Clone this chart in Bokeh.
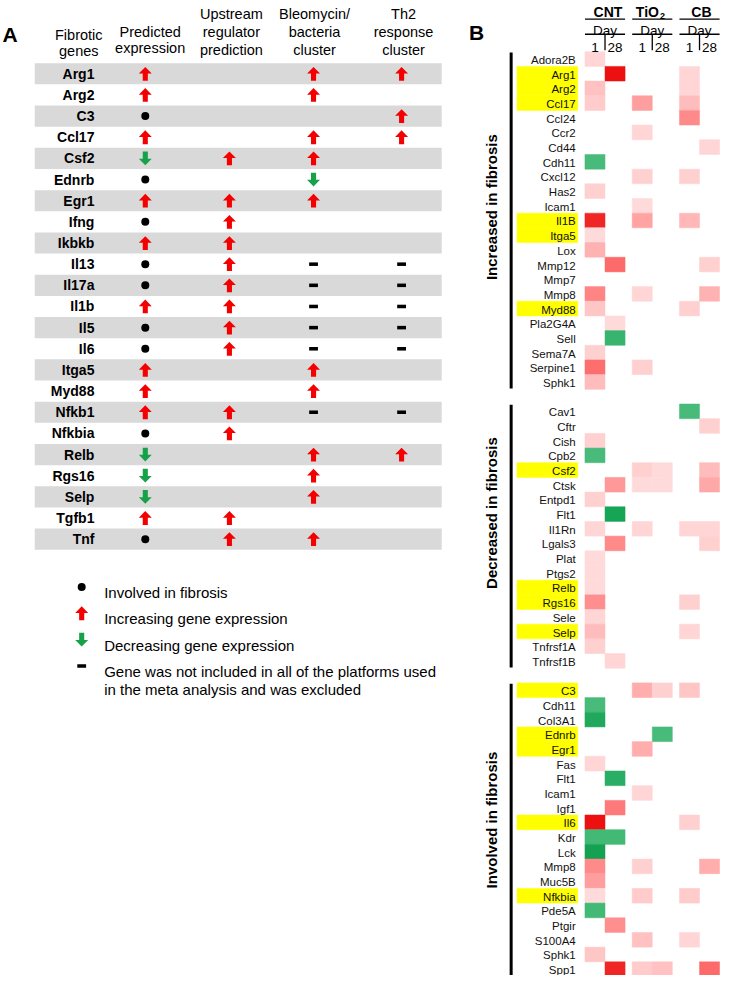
import numpy as np
from bokeh.plotting import figure
from bokeh.models import Range1d, ColumnDataSource, LinearColorMapper
from bokeh.core.properties import value
from bokeh.embed import file_html
from bokeh.resources import INLINE

# ---------------- Panel A data ----------------
genes_a = ["Arg1", "Arg2", "C3", "Ccl17", "Csf2", "Ednrb", "Egr1", "Ifng", "Ikbkb",
           "Il13", "Il17a", "Il1b", "Il5", "Il6", "Itga5", "Myd88", "Nfkb1", "Nfkbia",
           "Relb", "Rgs16", "Selp", "Tgfb1", "Tnf"]
predicted = ["up", "up", "dot", "up", "down", "dot", "up", "dot", "up", "dot", "dot", "up",
             "dot", "dot", "up", "up", "up", "dot", "down", "down", "down", "up", "dot"]
upstream = ["", "", "", "", "up", "", "up", "up", "up", "up", "up", "up", "up", "up",
            "", "", "up", "up", "", "", "", "up", "up"]
bleomycin = ["up", "up", "", "up", "up", "down", "up", "", "", "dash", "dash", "dash",
             "dash", "dash", "up", "up", "dash", "", "up", "up", "up", "", "up"]
th2 = ["up", "", "up", "up", "", "", "", "", "", "dash", "dash", "dash", "dash", "dash",
       "", "", "dash", "", "up", "", "", "", ""]
headers_a = [["Fibrotic", "genes"], ["Predicted", "expression"],
             ["Upstream", "regulator", "prediction"], ["Bleomycin/", "bacteria", "cluster"],
             ["Th2", "response", "cluster"]]
legend_symbols = ["dot", "up", "down", "dash"]
legend_labels = [["Involved in fibrosis"], ["Increasing  gene expression"],
                 ["Decreasing gene expression"],
                 ["Gene was not included in all of the platforms used",
                  "in the meta analysis and was excluded"]]

# ---------------- Panel B data ----------------
groups_b = ["CNT", "TiO", "CB"]
days_b = ["1", "28"]
sections_b = ["Increased in fibrosis", "Decreased in fibrosis", "Involved in fibrosis"]
# columns: CNT d1, CNT d28, TiO2 d1, TiO2 d28, CB d1, CB d28 (0 = not significant)
inc_genes = ["Adora2B", "Arg1", "Arg2", "Ccl17", "Ccl24", "Ccr2", "Cd44", "Cdh11", "Cxcl12",
             "Has2", "Icam1", "Il1B", "Itga5", "Lox", "Mmp12", "Mmp7", "Mmp8", "Myd88",
             "Pla2G4A", "Sell", "Sema7A", "Serpine1", "Sphk1"]
inc_vals = [[1.3, 0, 0, 0, 0, 0], [0, 5.0, 0, 0, 1.3, 0], [1.7, 0, 0, 0, 1.3, 0],
            [1.5, 0, 2.4, 0, 1.8, 0], [0, 0, 0, 0, 2.8, 0], [0, 0, 1.3, 0, 0, 0],
            [0, 0, 0, 0, 0, 1.3], [-2.0, 0, 0, 0, 0, 0], [0, 0, 1.4, 0, 1.4, 0],
            [1.4, 0, 0, 0, 0, 0], [0, 0, 1.2, 0, 0, 0], [4.6, 0, 2.3, 0, 1.9, 0],
            [1.2, 0, 0, 0, 0, 0], [2.0, 0, 0, 0, 0, 0], [0, 3.4, 0, 0, 0, 1.4],
            [0, 0, 0, 0, 0, 0], [2.9, 0, 1.3, 0, 0, 2.0], [1.6, 0, 0, 0, 1.4, 0],
            [0, 1.2, 0, 0, 0, 0], [0, -2.3, 0, 0, 0, 0], [1.4, 0, 0, 0, 0, 0],
            [3.3, 0, 1.4, 0, 0, 0], [1.8, 0, 0, 0, 0, 0]]
inc_hl = ["Arg1", "Arg2", "Ccl17", "Il1B", "Itga5", "Myd88"]
dec_genes = ["Cav1", "Cftr", "Cish", "Cpb2", "Csf2", "Ctsk", "Entpd1", "Flt1", "Il1Rn",
             "Lgals3", "Plat", "Ptgs2", "Relb", "Rgs16", "Sele", "Selp", "Tnfrsf1A", "Tnfrsf1B"]
dec_vals = [[0, 0, 0, 0, -2.0, 0], [0, 0, 0, 0, 0, 1.4], [1.4, 0, 0, 0, 0, 0],
            [-2.0, 0, 0, 0, 0, 0], [0, 0, 1.4, 1.2, 0, 1.8], [0, 2.5, 1.2, 1.2, 0, 2.2],
            [1.4, 0, 0, 0, 0, 0], [0, -3.0, 0, 0, 0, 0], [1.3, 0, 1.3, 0, 1.3, 1.3],
            [0, 2.8, 0, 0, 0, 1.4], [1.2, 0, 0, 0, 0, 0], [1.2, 0, 0, 0, 0, 0],
            [1.2, 0, 0, 0, 0, 0], [2.7, 0, 0, 0, 1.4, 0], [1.3, 0, 0, 0, 0, 0],
            [1.8, 0, 0, 0, 1.3, 0], [1.4, 0, 0, 0, 0, 0], [0, 1.3, 0, 0, 0, 0]]
dec_hl = ["Csf2", "Relb", "Rgs16", "Selp"]
inv_genes = ["C3", "Cdh11", "Col3A1", "Ednrb", "Egr1", "Fas", "Flt1", "Icam1", "Igf1", "Il6",
             "Kdr", "Lck", "Mmp8", "Muc5B", "Nfkbia", "Pde5A", "Ptgir", "S100A4", "Sphk1", "Spp1"]
inv_vals = [[0, 0, 2.1, 1.4, 1.6, 0], [-2.0, 0, 0, 0, 0, 0], [-2.8, 0, 0, 0, 0, 0],
            [0, 0, 0, -2.0, 0, 0], [0, 0, 2.1, 0, 0, 0], [1.3, 0, 0, 0, 0, 0],
            [0, -2.6, 0, 0, 0, 0], [0, 0, 1.3, 0, 0, 0], [0, 3.1, 0, 0, 0, 0],
            [5.0, 0, 0, 0, 1.4, 0], [-2.1, -2.1, 0, 0, 0, 0], [-3.2, 0, 0, 0, 0, 0],
            [2.8, 0, 1.4, 0, 0, 2.1], [2.4, 0, 0, 0, 0, 0], [1.2, 0, 1.5, 0, 1.5, 0],
            [-2.1, 0, 0, 0, 0, 0], [0, 2.7, 0, 0, 0, 0], [0, 0, 1.7, 0, 1.3, 0],
            [1.6, 0, 0, 0, 0, 0], [0, 4.6, 1.5, 1.7, 0, 3.4]]
inv_hl = ["C3", "Ednrb", "Egr1", "Il6", "Nfkbia"]

# ---------------- layout constants ----------------
FONT = value("Liberation Sans")
RED = "#f40000"
GREEN = "#17a24a"

p = figure(width=720, height=975, output_backend="svg", toolbar_location=None,
           x_range=Range1d(0, 736), y_range=Range1d(991, 0), min_border=0)
p.axis.visible = False
p.grid.visible = False
p.outline_line_color = None
p.background_fill_color = "white"


def aslist(v):
    return list(v) if isinstance(v, (list, tuple, np.ndarray)) else [v]


def txt(x, y, t, size, align="left", baseline="alphabetic", bold=False, angle=0, color="black"):
    t = aslist(t)
    n = len(t)
    x = aslist(x); y = aslist(y)
    if len(x) == 1:
        x = x * n
    if len(y) == 1:
        y = y * n
    src = ColumnDataSource(dict(x=x, y=y, t=t))
    p.text(x="x", y="y", text="t", source=src, text_font=FONT, text_font_size=size,
           text_align=align, text_baseline=baseline,
           text_font_style="bold" if bold else "normal", angle=angle, text_color=color)


def arrow_shape(cx, cy, direction):
    hw, sw, h = 6.6, 2.6, 7.0
    xs = [cx, cx + hw, cx + sw, cx + sw, cx - sw, cx - sw, cx - hw]
    ys = [cy - h, cy - 0.3, cy - 0.3, cy + h, cy + h, cy - 0.3, cy - 0.3]
    if direction == "down":
        ys = [2 * cy - y for y in ys]
    return xs, ys


def draw_symbols(xs_c, ys_c, kinds):
    axs, ays, acol = [], [], []
    dx, dy, rx, ry = [], [], [], []
    for x, y, k in zip(xs_c, ys_c, kinds):
        if k in ("up", "down"):
            a, b = arrow_shape(x, y, k)
            axs.append(a); ays.append(b); acol.append(RED if k == "up" else GREEN)
        elif k == "dot":
            dx.append(x); dy.append(y)
        elif k == "dash":
            rx.append(x); ry.append(y)
    if axs:
        p.patches(xs=axs, ys=ays, fill_color=acol, line_color=None)
    if dx:
        p.scatter(x=dx, y=dy, size=8, marker="circle", fill_color="black", line_color=None)
    if rx:
        p.rect(x=rx, y=ry, width=9, height=3.6, fill_color="black", line_color=None)


# ---------------- Panel A ----------------
A_ROW0, A_STEP = 74.5, 21.5
a_cols = [148, 234, 320, 410]
a_head_x = [80, 153, 236, 321, 412]
n_a = len(genes_a)
a_y = [A_ROW0 + A_STEP * i for i in range(n_a)]

band_y = [a_y[i] for i in range(0, n_a, 2)]
p.rect(x=[243] * len(band_y), y=band_y, width=416, height=A_STEP,
       fill_color="#d9d9d9", line_color=None)

txt(2, 35, "A", "21px", bold=True)
for k, (hx, lines) in enumerate(zip(a_head_x, headers_a)):
    if len(lines) == 3:
        ys = [14, 32, 50]
    elif k == 0:
        ys = [35, 51]
    else:
        ys = [32, 48]
    txt(hx, ys, lines, "14.5px", align="center")

txt([96] * n_a, a_y, genes_a, "14px", align="right", baseline="middle", bold=True)
for cx, col in zip(a_cols, [predicted, upstream, bleomycin, th2]):
    draw_symbols([cx] * n_a, a_y, col)

LEG_Y0, LEG_STEP = 596, 26.8
leg_y = [LEG_Y0 + LEG_STEP * i for i in range(len(legend_symbols))]
draw_symbols([83] * len(legend_symbols), leg_y, legend_symbols)
for y, lines in zip(leg_y, legend_labels):
    txt(106, [y + 5.5 + 18.5 * j for j in range(len(lines))], lines, "15px")

# ---------------- Panel B ----------------
B_ROW0, B_STEP = 59.5, 14.92
CELL_W, GROUP_GAP, COL0 = 20.5, 7.3, 607.7
col_x = [COL0 + CELL_W * c + GROUP_GAP * (c // 2) for c in range(6)]

sec_genes = [inc_genes, dec_genes, inv_genes]
sec_vals = [inc_vals, dec_vals, inv_vals]
sec_hl = [inc_hl, dec_hl, inv_hl]

row_idx = 0
all_y, all_labels = [], []
cx, cy, cv = [], [], []
hl_y = []
sec_ranges = []
for genes, vals, hl in zip(sec_genes, sec_vals, sec_hl):
    start = row_idx
    for g, rowv in zip(genes, vals):
        y = B_ROW0 + B_STEP * row_idx
        all_y.append(y); all_labels.append(g)
        if g in hl:
            hl_y.append(y)
        for c, v in enumerate(rowv):
            if v != 0:
                cx.append(col_x[c]); cy.append(y); cv.append(v)
        row_idx += 1
    sec_ranges.append((B_ROW0 + B_STEP * start, B_ROW0 + B_STEP * (row_idx - 1)))
    row_idx += 1  # blank row between sections

# colour scale
anchors = [(-4, (10, 150, 68)), (-3, (22, 164, 85)), (-2, (72, 187, 122)), (-1, (150, 216, 176)),
           (0, (255, 255, 255)), (1, (255, 228, 228)), (2, (255, 178, 178)),
           (3, (255, 128, 128)), (4, (247, 72, 72)), (5, (236, 16, 16))]
pal = []
for t in np.linspace(-4, 5, 181):
    for (v0, c0), (v1, c1) in zip(anchors[:-1], anchors[1:]):
        if v0 <= t <= v1:
            f = (t - v0) / (v1 - v0)
            rgb = [int(round(a + (b - a) * f)) for a, b in zip(c0, c1)]
            pal.append("#%02x%02x%02x" % tuple(rgb))
            break
mapper = LinearColorMapper(palette=pal, low=-4, high=5)

# yellow highlights
p.rect(x=[559] * len(hl_y), y=hl_y, width=62, height=B_STEP,
       fill_color="#ffff00", line_color="#ffff00", line_width=0.5)

src = ColumnDataSource(dict(x=cx, y=cy, v=cv))
p.rect(x="x", y="y", width=CELL_W, height=B_STEP, source=src,
       fill_color={"field": "v", "transform": mapper},
       line_color={"field": "v", "transform": mapper}, line_width=0.5)

txt(588, [y + 1 for y in all_y], all_labels, "11.5px", align="right",
    baseline="middle", color="#111111")

# section bars and labels
for (y0, y1), name in zip(sec_ranges, sections_b):
    p.segment(x0=[522], y0=[y0 - 0.45 * B_STEP], x1=[522], y1=[y1 + 0.45 * B_STEP],
              line_color="black", line_width=3)
txt(502, [210, 521, 833], sections_b, "15px", align="center", baseline="middle",
    bold=True, angle=np.pi / 2)

# header
txt(479, 33, "B", "21px", bold=True)
g_left = [col_x[2 * g] - CELL_W / 2 for g in range(3)]
g_right = [col_x[2 * g + 1] + CELL_W / 2 for g in range(3)]
g_mid = [(a + b) / 2 for a, b in zip(g_left, g_right)]
txt([g_mid[0] + 3, g_mid[1] - 5, g_mid[2] + 2], 12, groups_b, "14px", align="center", bold=True)
txt(g_mid[1] + 10.5, 15.5, "2", "9px", align="center", bold=True)
p.segment(x0=g_left, y0=[19] * 3, x1=g_right, y1=[19] * 3, line_color="black", line_width=1.3)
txt(g_mid, 30.5, ["Day"] * 3, "13.5px", align="center")
p.segment(x0=g_left, y0=[34.3] * 3, x1=g_right, y1=[34.3] * 3, line_color="black", line_width=1.3)
txt(col_x, 48, days_b * 3, "13.5px", align="center")
sep_x = [(col_x[2 * g] + col_x[2 * g + 1]) / 2 for g in range(3)]
p.segment(x0=sep_x, y0=[34.3] * 3, x1=sep_x, y1=[50.5] * 3, line_color="black", line_width=1.3)

open("out.html", "w").write(file_html(p, INLINE))
